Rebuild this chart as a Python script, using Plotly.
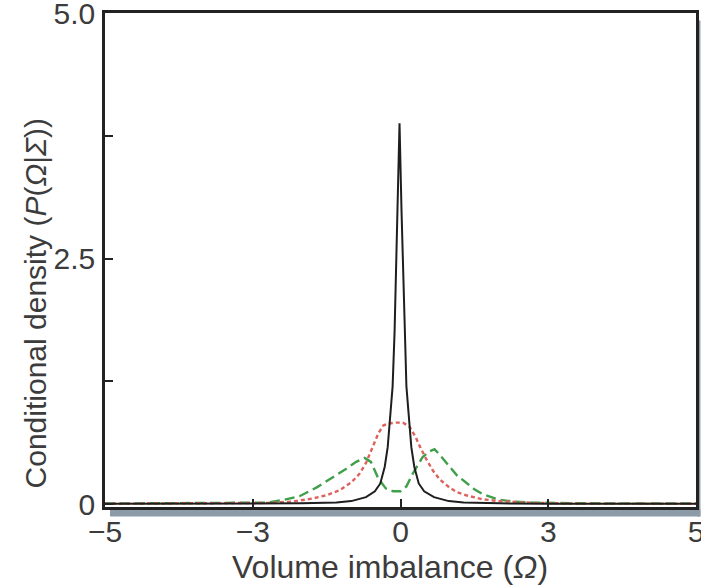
import plotly.graph_objects as go

# ---- data ----
black_x = [-6, -3, -2, -1.3, -1.0, -0.7, -0.52, -0.41, -0.32, -0.26, -0.2, -0.16, -0.12, -0.105,
           -0.06, -0.02, 0.02, 0.065, 0.08, 0.12, 0.16, 0.22, 0.28, 0.37, 0.48, 0.68, 0.98, 1.28, 2, 3, 6]
black_y = [0.004, 0.004, 0.007, 0.015, 0.03, 0.07, 0.13, 0.21, 0.38, 0.58, 0.95, 1.2, 1.76, 2.1,
           3.0, 3.88, 3.0, 2.1, 1.76, 1.2, 0.95, 0.58, 0.38, 0.21, 0.13, 0.07, 0.03, 0.015, 0.007, 0.004, 0.004]

red_x = [-6, -3.5, -2.7, -2.2, -1.8, -1.5, -1.24, -1.0, -0.83, -0.7, -0.55, -0.45, -0.35, -0.25,
         -0.1, 0.05, 0.18, 0.3, 0.4, 0.52, 0.66, 0.8, 0.99, 1.15, 1.33, 1.65, 2.0, 2.7, 3.5, 6]
red_y = [0.003, 0.005, 0.012, 0.025, 0.055, 0.09, 0.14, 0.22, 0.31, 0.42, 0.6, 0.72, 0.8, 0.82,
         0.83, 0.83, 0.79, 0.69, 0.58, 0.46, 0.34, 0.25, 0.17, 0.12, 0.09, 0.05, 0.03, 0.012, 0.005, 0.003]

green_x = [-6, -3.5, -2.7, -2.4, -2.05, -1.7, -1.37, -1.1, -0.9, -0.73, -0.6, -0.45, -0.3, -0.15,
           0.0, 0.12, 0.25, 0.45, 0.6, 0.69, 0.8, 0.99, 1.15, 1.33, 1.5, 1.67, 2.0, 2.3, 2.7, 3.5, 6]
green_y = [0.005, 0.008, 0.015, 0.04, 0.08, 0.17, 0.27, 0.36, 0.43, 0.47, 0.43, 0.26, 0.16, 0.13,
           0.13, 0.18, 0.31, 0.48, 0.54, 0.56, 0.5, 0.38, 0.29, 0.22, 0.15, 0.1, 0.045, 0.025, 0.015, 0.008, 0.005]

x_tickvals = [-6, -3, 0, 3, 6]
x_ticktext = ["\u22125", "\u22123", "0", "3", "5"]
y_tickvals = [0, 2.5, 5]
y_ticktext = ["0", "2.5", "5.0"]
x_title = "Volume imbalance (<i>\u03a9</i>)"
y_title = "Conditional density (<i>P</i>(<i>\u03a9</i>|<i>\u03a3</i>))"

FONT = "Liberation Sans, Arial, sans-serif"
TXT = "#3c3c3c"

fig = go.Figure()
fig.add_trace(go.Scatter(x=green_x, y=green_y, mode="lines", hoverinfo="skip",
                         line=dict(color="#3f9f4a", width=2.4, dash="10px,5px")))
fig.add_trace(go.Scatter(x=red_x, y=red_y, mode="lines", hoverinfo="skip",
                         line=dict(color="#dd625c", width=2.4, dash="4px,3px")))
fig.add_trace(go.Scatter(x=black_x, y=black_y, mode="lines", hoverinfo="skip",
                         line=dict(color="#1e1e1e", width=2)))

# gray drop shadow of the frame (bottom and right)
shadow = "#8d9ba8"
fig.add_shape(type="rect", xref="paper", yref="paper", x0=0.0085, x1=1.0075, y0=-0.019, y1=-0.004,
              fillcolor=shadow, line=dict(width=0), layer="below")
fig.add_shape(type="rect", xref="paper", yref="paper", x0=1.002, x1=1.0075, y0=-0.019, y1=0.985,
              fillcolor=shadow, line=dict(width=0), layer="below")

# axis titles
fig.add_annotation(text=x_title, xref="paper", yref="paper", x=0.483, y=-0.121,
                   xanchor="center", yanchor="middle", showarrow=False,
                   font=dict(size=32, color=TXT, family=FONT))
fig.add_annotation(text=y_title, xref="paper", yref="paper", x=-0.116, y=0.413,
                   xanchor="center", yanchor="middle", showarrow=False, textangle=-90,
                   font=dict(size=30, color=TXT, family=FONT))

fig.update_layout(
    template="none",
    width=701, height=588,
    margin=dict(l=105, r=5, t=13, b=81, autoexpand=False),
    paper_bgcolor="white", plot_bgcolor="white",
    showlegend=False,
    font=dict(family=FONT, color=TXT, size=30),
    xaxis=dict(range=[-6, 6], tickvals=x_tickvals, ticktext=x_ticktext, automargin=False,
               ticks="inside", ticklen=8, tickwidth=1.5, tickcolor="#222",
               showline=True, linecolor="#222", linewidth=2.5, mirror=True,
               showgrid=False, zeroline=False,
               tickfont=dict(size=30, color=TXT, family=FONT),
               ticklabelstandoff=-4, ticklabeloverflow="allow"),
    yaxis=dict(range=[-0.03, 5.005], tickvals=y_tickvals, ticktext=y_ticktext, automargin=False,
               ticks="inside", ticklen=8, tickwidth=1.5, tickcolor="#222",
               minor=dict(dtick=1.25, tick0=0, ticks="inside", ticklen=8, tickwidth=1.5, tickcolor="#222"),
               showline=True, linecolor="#222", linewidth=2.5, mirror=True,
               showgrid=False, zeroline=False,
               tickfont=dict(size=30, color=TXT, family=FONT),
               ticklabelstandoff=1, ticklabeloverflow="allow"),
)

fig.write_html("out.html", config={"displayModeBar": False},
               post_script="document.body.style.margin='0';")
